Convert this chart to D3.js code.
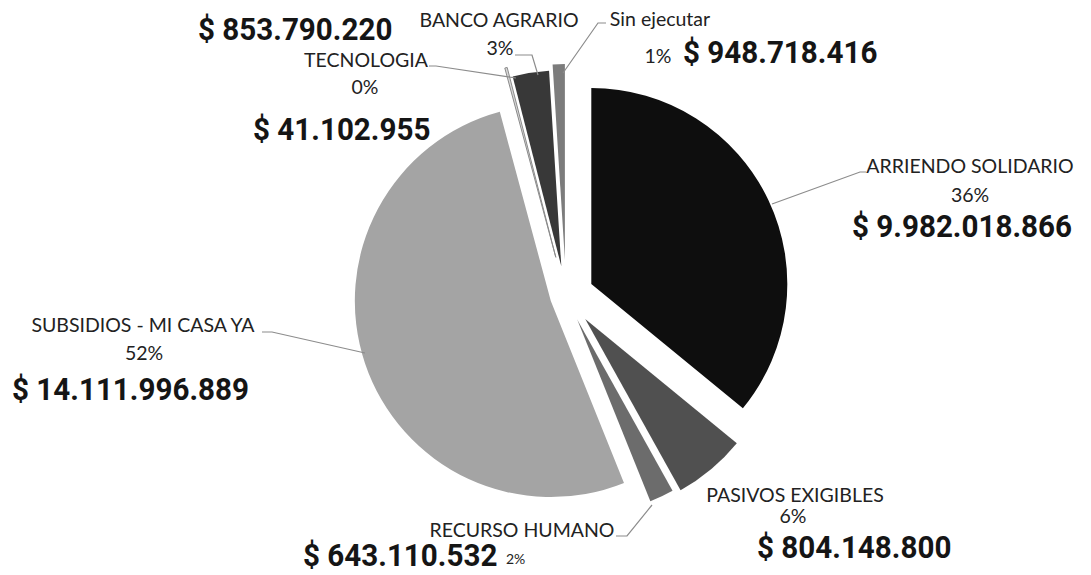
<!DOCTYPE html>
<html>
<head>
<meta charset="utf-8">
<script src="https://cdn.jsdelivr.net/npm/d3@7/dist/d3.min.js"></script>
<style>
  html, body { margin: 0; padding: 0; background: #fff; }
  svg { display: block; }
</style>
</head>
<body>
<svg id="chart" width="1091" height="575"></svg>
<script>
// ---- data ----
const categories = ["ARRIENDO SOLIDARIO", "PASIVOS EXIGIBLES", "RECURSO HUMANO", "SUBSIDIOS - MI CASA YA", "TECNOLOGIA", "BANCO AGRARIO", "Sin ejecutar"];
const shares = [36, 6, 2, 52, 0.2, 3, 1];
const percentLabels = ["36%", "6%", "2%", "52%", "0%", "3%", "1%"];
const amountLabels = ["$ 9.982.018.866", "$ 804.148.800", "$ 643.110.532", "$ 14.111.996.889", "$ 41.102.955", "$ 853.790.220", "$ 948.718.416"];

// ---- style / layout ----
const colors = ["#0e0e0e", "#505050", "#6c6c6c", "#a4a4a4", "#d8d8d8", "#383838", "#7c7c7c"];
const explode = [28, 30, 26, 16, 40, 30, 36];
const center = [566, 296];
const radius = 196;
const amountFontSize = 31;
const amountSqueeze = 0.955;
// label layout: [nameX, nameY, pctX, pctY, amountStartX, amountY]
const labelLayout = [
  [970, 173, 970, 202, 852, 237],
  [795, 502, 793, 523, 757, 558],
  [522, 537, 506, 564, 303, 566],
  [143, 332, 144, 360, 12, 400],
  [366, 67, 365, 94, 253, 140],
  [499, 27, 500, 55, 198, 40],
  [660, 26, 658, 63, 683, 63]
];
const leaders = [
  [[772, 204], [860, 172], [866, 172]],
  null,
  [[652, 505], [627, 536], [616, 536]],
  [[365, 353], [272, 332], [262, 332]],
  [[516, 78], [436, 66], [429, 66]],
  [[538, 75], [532, 55], [515, 55]],
  [[563, 73], [598, 23], [606, 23]]
];

const svg = d3.select("#chart");
const data = categories.map((c, i) => ({ name: c, value: shares[i], i }));

const pie = d3.pie().sort(null).value(d => d.value);
const arc = d3.arc().innerRadius(0).outerRadius(radius);
const arcs = pie(data);

const g = svg.append("g").attr("transform", `translate(${center[0]},${center[1]})`);
g.selectAll("path.slice")
  .data(arcs)
  .join("path")
  .attr("class", "slice")
  .attr("d", arc)
  .attr("fill", d => colors[d.data.i])
  .attr("stroke", d => d.data.i === 4 ? "#8a8a8a" : "none")
  .attr("stroke-width", 1)
  .attr("transform", d => {
    const a = (d.startAngle + d.endAngle) / 2;
    const off = explode[d.data.i];
    return `translate(${Math.sin(a) * off},${-Math.cos(a) * off})`;
  });

// leader lines
const line = d3.line();
svg.selectAll("path.leader")
  .data(leaders.filter(l => l))
  .join("path")
  .attr("class", "leader")
  .attr("d", d => line(d))
  .attr("fill", "none")
  .attr("stroke", "#8c8c8c")
  .attr("stroke-width", 1.2);

// labels
const lbl = svg.append("g");
data.forEach((d, i) => {
  const L = labelLayout[i];
  lbl.append("text")
    .attr("x", L[0]).attr("y", L[1])
    .attr("text-anchor", "middle")
    .attr("font-family", "Lato, 'Open Sans', sans-serif")
    .attr("font-size", 19.5)
    .attr("fill", "#222")
    .text(d.name);
  lbl.append("text")
    .attr("x", L[2]).attr("y", L[3])
    .attr("text-anchor", i === 2 ? "start" : "middle")
    .attr("font-family", "Lato, 'Open Sans', sans-serif")
    .attr("font-size", i === 2 ? 14 : 19.5)
    .attr("fill", "#222")
    .text(percentLabels[i]);
  const t = lbl.append("text")
    .attr("x", L[4]).attr("y", L[5])
    .attr("text-anchor", "start")
    .attr("font-family", "Roboto, sans-serif")
    .attr("font-weight", 700)
    .attr("font-size", amountFontSize)
    .attr("fill", "#151515")
    .text(amountLabels[i]);
  const w = t.node().getComputedTextLength();
  t.attr("textLength", w * amountSqueeze).attr("lengthAdjust", "spacingAndGlyphs");
});
</script>
</body>
</html>
